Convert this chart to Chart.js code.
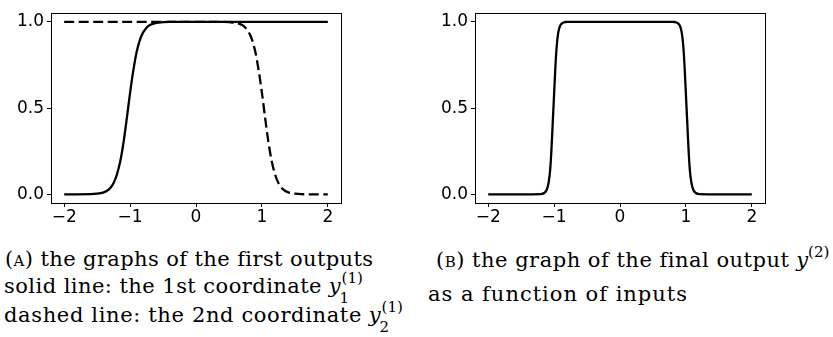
<!DOCTYPE html>
<html>
<head>
<meta charset="utf-8">
<script src="https://cdn.jsdelivr.net/npm/chart.js@4.4.0/dist/chart.umd.min.js"></script>
<style>
  body { margin: 0; background: #fff; width: 833px; height: 337px; position: relative; overflow: hidden; }
  .plot { position: absolute; top: 0; }
  .cap { position: absolute; font-family: "DejaVu Serif", serif; font-size: 21px; line-height: 22px; white-space: nowrap; color: #000; }
  .sc { font-variant: small-caps; }
  .m { font-style: italic; }
  .ss { position: relative; display: inline-block; width: 28px; height: 10px; font-style: normal; font-size: 15px; line-height: 15px; letter-spacing: 0; }
  .ss .up { position: absolute; left: 1px; top: -12px; }
  .ss .dn { position: absolute; left: -1px; top: 8px; }
  .ss2 { width: 22px; }
</style>
</head>
<body>
<canvas id="chartA" class="plot" width="360" height="230" style="left:0px"></canvas>
<canvas id="chartB" class="plot" width="360" height="230" style="left:424px"></canvas>

<div class="cap" style="left:5px; top:248px"><span class="t" data-w="368"><span class="sc">(a)</span> the graphs of the first outputs</span></div>
<div class="cap" style="left:4px; top:275px"><span class="t" data-w="318">solid line: the 1st coordinate</span> <span class="m">y</span><span class="ss"><span class="up">(1)</span><span class="dn">1</span></span></div>
<div class="cap" style="left:4px; top:304px"><span class="t" data-w="358">dashed line: the 2nd coordinate</span> <span class="m">y</span><span class="ss"><span class="up">(1)</span><span class="dn">2</span></span></div>
<div class="cap" style="left:436px; top:249px"><span class="t" data-w="353"><span class="sc">(b)</span> the graph of the final output</span> <span class="m">y</span><span class="ss ss2"><span class="up" style="left:0px">(2)</span></span></div>
<div class="cap" style="left:428px; top:283px"><span class="t" data-w="260">as a function of inputs</span></div>

<script>
// tick positions
const xTicks = [-2, -1, 0, 1, 2]
const yTicks = [0, 0.5, 1]

// (A) solid line: 1st coordinate
const solidX = [-2, -1.6, -1.5, -1.4, -1.35, -1.3, -1.25, -1.2, -1.15, -1.1, -1.05, -1.0, -0.95, -0.9, -0.85, -0.8, -0.75, -0.7, -0.6, -0.5, -0.4, 0, 2]
const solidY = [0, 0.001, 0.004, 0.012, 0.021, 0.037, 0.066, 0.115, 0.19, 0.30, 0.44, 0.59, 0.72, 0.826, 0.897, 0.94, 0.966, 0.981, 0.994, 0.998, 1.0, 1.0, 1.0]

// (A) dashed line: 2nd coordinate
const dashX = [-2, 0, 0.4, 0.5, 0.6, 0.7, 0.75, 0.8, 0.85, 0.9, 0.95, 1.0, 1.05, 1.1, 1.15, 1.2, 1.25, 1.3, 1.35, 1.4, 1.5, 1.6, 2]
const dashY = [1.0, 1.0, 1.0, 0.998, 0.994, 0.981, 0.966, 0.94, 0.897, 0.826, 0.72, 0.59, 0.44, 0.30, 0.19, 0.115, 0.066, 0.037, 0.021, 0.012, 0.004, 0.001, 0]

// (B) final output
const outX = [-2, -1.2, -1.15, -1.12, -1.1, -1.08, -1.06, -1.04, -1.02, -1.0, -0.98, -0.96, -0.94, -0.92, -0.9, -0.87, -0.83, -0.8, 0, 0.8, 0.83, 0.87, 0.9, 0.92, 0.94, 0.96, 0.98, 1.0, 1.02, 1.04, 1.06, 1.08, 1.1, 1.12, 1.15, 1.2, 2]
const outY = [0, 0.002, 0.008, 0.02, 0.04, 0.075, 0.14, 0.26, 0.42, 0.58, 0.74, 0.86, 0.93, 0.965, 0.983, 0.994, 0.999, 1.0, 1.0, 1.0, 0.999, 0.994, 0.983, 0.965, 0.93, 0.86, 0.74, 0.58, 0.42, 0.26, 0.14, 0.075, 0.04, 0.02, 0.008, 0.002, 0]

function pts(xs, ys) {
    return xs.map((x, i) => ({ x: x, y: ys[i] }))
}

// stretch caption text to the widths seen in the picture
document.querySelectorAll('.t').forEach(el => {
    const want = +el.dataset.w
    const have = el.getBoundingClientRect().width
    const n = el.textContent.length
    el.style.letterSpacing = ((want - have) / n).toFixed(3) + 'px'
})

// full box round the plot area, like matplotlib spines
const frame = {
    id: 'frame',
    afterDraw(chart) {
        const a = chart.chartArea
        const ctx = chart.ctx
        ctx.save()
        ctx.strokeStyle = '#000'
        ctx.lineWidth = 1
        ctx.strokeRect(Math.round(a.left) + 0.5, Math.round(a.top) + 0.5, Math.round(a.right - a.left), Math.round(a.bottom - a.top))
        ctx.restore()
    }
}

function lineSet(data, dashed) {
    return {
        data: data,
        borderColor: '#000',
        borderWidth: 2.3,
        borderDash: dashed ? [10, 4.5] : [],
        pointRadius: 0,
        fill: false,
        cubicInterpolationMode: 'monotone'
    }
}

function makeOptions() {
    const tickFont = { family: 'DejaVu Sans', size: 17 }
    return {
        responsive: false,
        animation: false,
        events: [],
        layout: { padding: { top: 11, right: 19, left: 0, bottom: 0 } },
        plugins: { legend: { display: false }, tooltip: { enabled: false } },
        scales: {
            x: {
                type: 'linear',
                min: -2.2,
                max: 2.2,
                afterBuildTicks: s => { s.ticks = xTicks.map(v => ({ value: v })) },
                afterFit: s => { s.height = 27 },
                ticks: {
                    color: '#000',
                    font: tickFont,
                    padding: 0,
                    maxRotation: 0,
                    callback: v => String(v).replace('-', '\u2212')
                },
                grid: { drawOnChartArea: false, drawTicks: true, tickLength: 4, color: '#000', lineWidth: 1 },
                border: { display: false }
            },
            y: {
                type: 'linear',
                min: -0.05,
                max: 1.05,
                afterBuildTicks: s => { s.ticks = yTicks.map(v => ({ value: v })) },
                afterFit: s => { s.width = 51 },
                ticks: {
                    color: '#000',
                    font: tickFont,
                    padding: 3,
                    callback: v => v.toFixed(1)
                },
                grid: { drawOnChartArea: false, drawTicks: true, tickLength: 4, color: '#000', lineWidth: 1 },
                border: { display: false }
            }
        }
    }
}

new Chart(document.getElementById('chartA'), {
    type: 'line',
    data: { datasets: [lineSet(pts(dashX, dashY), true), lineSet(pts(solidX, solidY), false)] },
    options: makeOptions(),
    plugins: [frame]
})

new Chart(document.getElementById('chartB'), {
    type: 'line',
    data: { datasets: [lineSet(pts(outX, outY), false)] },
    options: makeOptions(),
    plugins: [frame]
})
</script>
</body>
</html>
